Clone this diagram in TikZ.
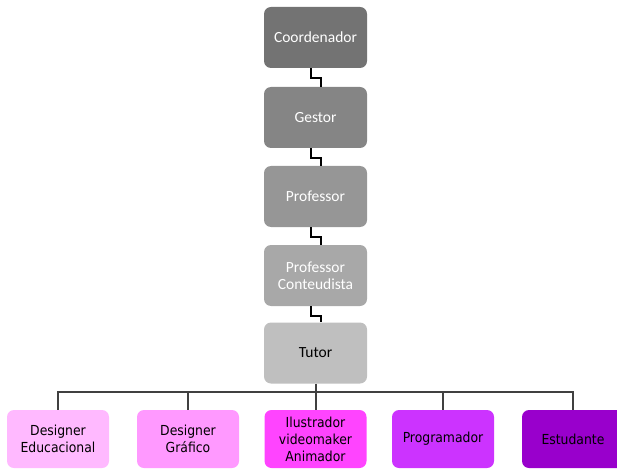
\documentclass[tikz,border=0pt]{standalone}
\usepackage{fontspec}
\setmainfont{Carlito}
\newfontfamily\roleface{DejaVu Sans Condensed}
\begin{document}
\begin{tikzpicture}[x=1pt,y=-1pt,
  chainbox/.style={rounded corners=7pt, minimum width=103pt, minimum height=61pt,
    inner sep=0pt, align=center, font=\fontsize{15.5}{17.3}\selectfont, text=white},
  rolebox/.style={rounded corners=7pt, minimum width=102pt, minimum height=58pt,
    inner sep=0pt, align=center, font=\roleface\fontsize{13.8}{17}\selectfont, text=black},
  zig/.style={draw=black, line width=2pt},
  bus/.style={draw=black!75, line width=2pt}]
\useasboundingbox (0,0) rectangle (617,470);

% hierarchy column
\node[chainbox, fill=black!55] (coord) at (315.5,37.5) {Coordenador};
\node[chainbox, fill=black!48] (gest)  at (315.5,117.5) {Gestor};
\node[chainbox, fill=black!41] (prof)  at (315.5,196.5) {Professor};
\node[chainbox, fill=black!34] (cont)  at (315.5,275.5) {Professor\\Conteudista};
\node[chainbox, fill=black!25, text=black] (tutor) at (315.5,353) {Tutor};

% role row
\node[rolebox, fill={rgb,255:red,255;green,185;blue,255}] (r1) at (58,439) {Designer\\Educacional};
\node[rolebox, fill={rgb,255:red,255;green,153;blue,255}] (r2) at (188,439) {Designer\\Gráfico};
\node[rolebox, fill={rgb,255:red,255;green,68;blue,255}]  (r3) at (315.5,439) {Ilustrador\\videomaker\\Animador};
\node[rolebox, fill={rgb,255:red,204;green,51;blue,255}]  (r4) at (443,439) {Programador};
\node[rolebox, fill={rgb,255:red,153;green,0;blue,204}]   (r5) at (573,439) {Estudante};

% stepped links between levels
\foreach \a/\b in {coord/gest, gest/prof, prof/cont, cont/tutor}
  \draw[zig] ([xshift=-5pt]\a.south) -- ++(0,9.5) -| ([xshift=5.5pt]\b.north);

% distribution bus
\draw[bus] (r1.north) -- ++(0,-17.5) coordinate (busL) -| (r5.north);
\foreach \r in {r2,r3,r4}
  \draw[bus] (\r.north) -- (\r.north |- busL);
\draw[bus] (tutor.south) -- (tutor.south |- busL);
\end{tikzpicture}
\end{document}
